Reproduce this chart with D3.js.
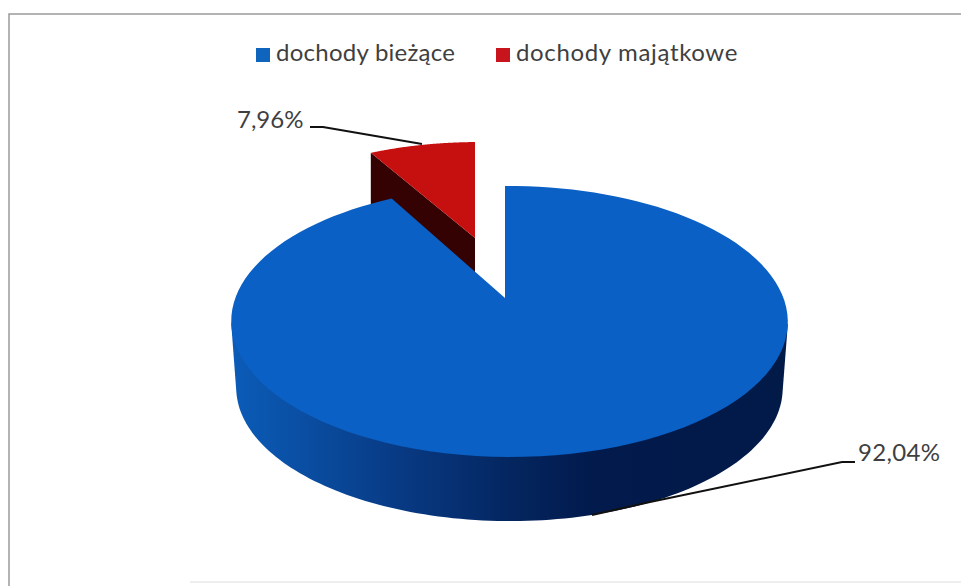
<!DOCTYPE html>
<html>
<head>
<meta charset="utf-8">
<script src="https://cdn.jsdelivr.net/npm/d3@7"></script>
<style>
  html, body { margin: 0; background: #fff; }
  text { font-family: Lato, sans-serif; font-size: 24px; fill: #3f3f3f; }
</style>
</head>
<body>
<script>
var categories = ["dochody bieżące", "dochody majątkowe"];
var shares = [92.04, 7.96];
var shareLabels = ["92,04%", "7,96%"];

var width = 961, height = 586;

var svg = d3.select("body").append("svg").attr("width", width).attr("height", height)
    .style("display", "block");

var slices = d3.pie().sort(null)(shares);

// 3D look: a point on the unit disc is projected with perspective, far edge is smaller
var tilt = 0.1735, skew = -0.016;
function projector(cx, cy, rx, ry) {
  var xScale = d3.scaleLinear().domain([-1, 1]).range([cx - rx, cx + rx]);
  var yScale = d3.scaleLinear().domain([-1, 1]).range([cy + ry, cy - ry]);
  return function (angle) {
    var u = Math.sin(angle), v = Math.cos(angle), w = 1 + tilt * v + skew * u;
    return [xScale(u / w), yScale(v / w)];
  };
}

var blueTop = projector(505, 298, 274, 131.4);
var blueBottom = projector(505, 365, 269, 129);
var redTop = projector(475, 238, 252, 112.6);
var redBottom = projector(475, 296, 252, 112.6);

var line = d3.line();

function arcPoints(proj, a0, a1) {
  var n = 120, pts = [];
  for (var i = 0; i <= n; i++) pts.push(proj(a0 + (a1 - a0) * i / n));
  return pts;
}

function sector(proj, d, vertex) {
  return line([vertex].concat(arcPoints(proj, d.startAngle, d.endAngle))) + "Z";
}

var defs = svg.append("defs");
var wall = defs.append("linearGradient").attr("id", "wall")
    .attr("gradientUnits", "userSpaceOnUse")
    .attr("x1", 231).attr("x2", 788).attr("y1", 0).attr("y2", 0);
wall.append("stop").attr("offset", "0").attr("stop-color", "#0b5cb8");
wall.append("stop").attr("offset", "0.12").attr("stop-color", "#0a4fa4");
wall.append("stop").attr("offset", "0.3").attr("stop-color", "#083a84");
wall.append("stop").attr("offset", "0.5").attr("stop-color", "#042660");
wall.append("stop").attr("offset", "0.65").attr("stop-color", "#021a4c");
wall.append("stop").attr("offset", "1").attr("stop-color", "#021a48");

// frame of the chart area
svg.append("path").attr("d", line([[9, 586], [9, 14], [961, 14]]))
    .attr("fill", "none").attr("stroke", "#9a9a9a").attr("stroke-width", 1.5);
svg.append("path").attr("d", line([[190, 582], [961, 582]]))
    .attr("fill", "none").attr("stroke", "#dddddd").attr("stroke-width", 1);

// exploded red slice, drawn first because the blue one covers its foot
var red = slices[1];
svg.append("path")
    .attr("d", line([redTop(red.startAngle), [475, 238], [475, 296], redBottom(red.startAngle)]) + "Z")
    .attr("fill", "#340202");
svg.append("path")
    .attr("d", sector(redTop, red, [475, 238]))
    .attr("fill", "#c6100f");

// blue slice: outer wall is the hull of the front arcs, top face goes over it
var blue = slices[0];
var wallHull = d3.polygonHull(arcPoints(blueTop, Math.PI * 0.56, Math.PI * 1.44)
    .concat(arcPoints(blueBottom, Math.PI * 0.56, Math.PI * 1.44)));
svg.append("path").attr("d", line(wallHull) + "Z").attr("fill", "url(#wall)");
svg.append("path")
    .attr("d", sector(blueTop, blue, [505, 298]))
    .attr("fill", "#0a60c4");

// legend
var legendX = [256, 496], legendTextX = [276, 516], legendSpacing = [0.25, 0.65], legendColors = ["#0f65bd", "#c8141c"];
var legend = svg.selectAll("g.legend").data(categories).enter().append("g").attr("class", "legend");
legend.append("rect")
    .attr("x", function (d, i) { return legendX[i]; })
    .attr("y", 48).attr("width", 14).attr("height", 14)
    .attr("fill", function (d, i) { return legendColors[i]; });
legend.append("text")
    .attr("x", function (d, i) { return legendTextX[i]; })
    .attr("y", 61)
    .attr("letter-spacing", function (d, i) { return legendSpacing[i]; })
    .text(function (d) { return d; });

// data labels with leaders
svg.append("path").attr("d", line([[310, 127], [323, 127], [422, 144]]))
    .attr("fill", "none").attr("stroke", "#111").attr("stroke-width", 2);
svg.append("path").attr("d", line([[855, 462], [842, 462], [650, 502], [592, 515]]))
    .attr("fill", "none").attr("stroke", "#111").attr("stroke-width", 2);
svg.append("text").attr("x", 237).attr("y", 128).text(shareLabels[1]);
svg.append("text").attr("x", 858).attr("y", 461).attr("letter-spacing", 0.3).text(shareLabels[0]);
</script>
</body>
</html>
